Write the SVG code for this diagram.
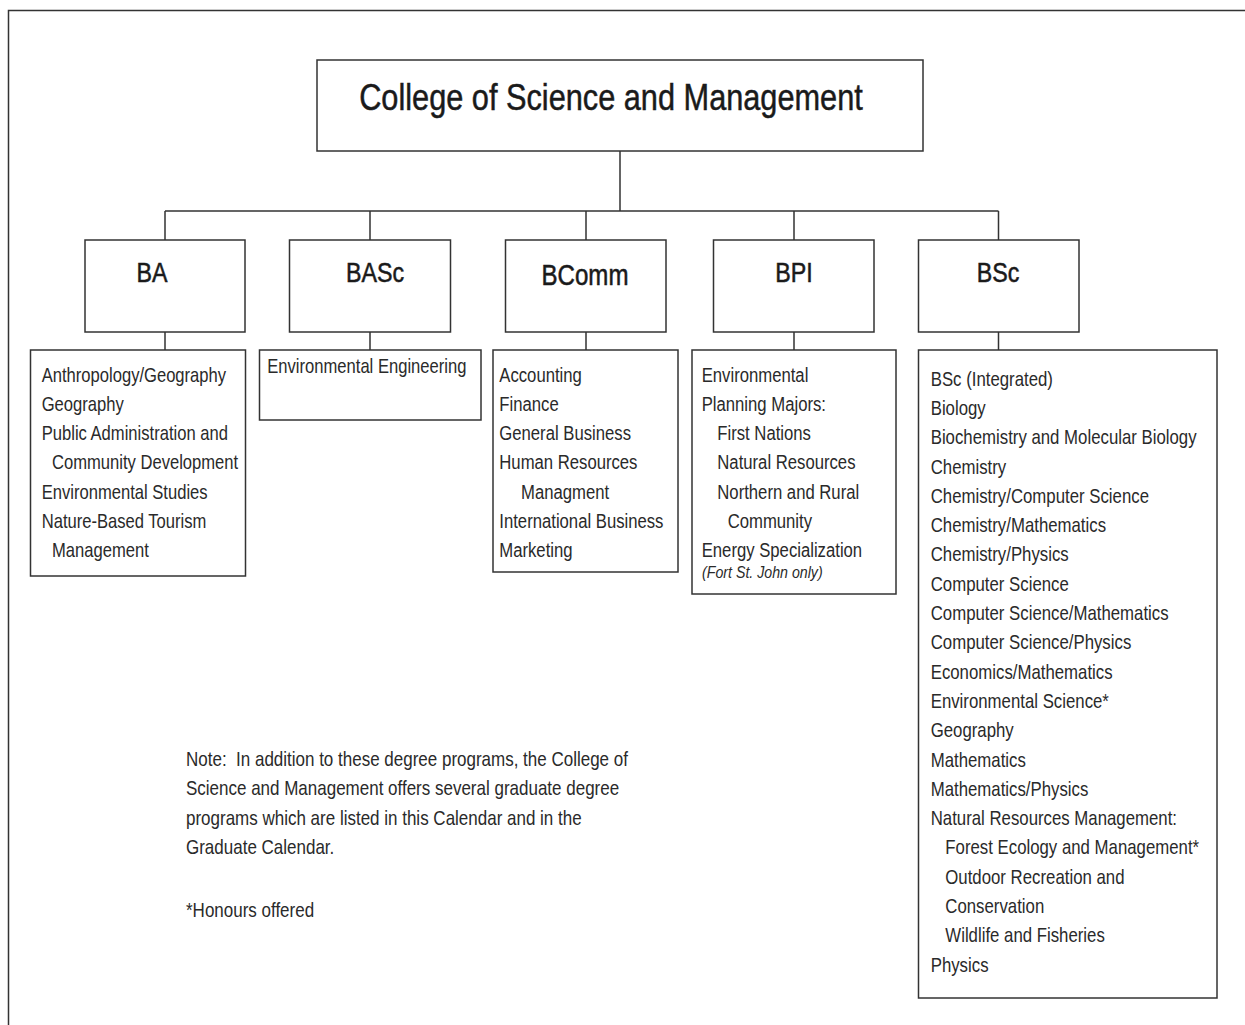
<svg xmlns="http://www.w3.org/2000/svg" width="1245" height="1025" viewBox="0 0 1245 1025">
<style>
.box{fill:#fff;stroke:#333;stroke-width:1.5}
.ln{fill:none;stroke:#333;stroke-width:1.5}
text{font-family:"Liberation Sans",Arial,sans-serif;fill:#1a1a1a}
.title{font-size:37px;text-anchor:middle;stroke:#1a1a1a;stroke-width:0.5}
.deg{font-size:28px;text-anchor:middle;stroke:#1a1a1a;stroke-width:0.55}
.item{font-size:20px;fill:#2a2a2a}
.it{font-size:17px;font-style:italic;fill:#2a2a2a}
</style>
<rect x="8.5" y="10.5" width="1260" height="1040" fill="#fff" stroke="#333" stroke-width="1.5"/>
<g id="connectors">
<path class="ln" d="M620,151 V211 M165,211 H998.5 M165,211 V240 M370,211 V240 M586,211 V240 M794,211 V240 M998.5,211 V240"/>
<path class="ln" d="M165,332 V350 M370,332 V350 M586,332 V350 M794,332 V350 M998.5,332 V350"/>
</g>
<g id="college">
<rect class="box" x="317" y="60" width="606" height="91"/>
<text class="title" transform="translate(611,0) scale(0.83,1)" x="0" y="110">College of Science and Management</text>
</g>
<g id="ba">
<rect class="box" x="85" y="240" width="160" height="92"/>
<text class="deg" transform="translate(152,0) scale(0.83,1)" x="0" y="282">BA</text>
</g>
<g id="basc">
<rect class="box" x="289.5" y="240" width="161" height="92"/>
<text class="deg" transform="translate(375,0) scale(0.83,1)" x="0" y="282">BASc</text>
</g>
<g id="bcomm">
<rect class="box" x="505.5" y="240" width="160.5" height="92"/>
<text class="deg" transform="translate(585,0) scale(0.83,1)" x="0" y="285" style="font-size:29px">BComm</text>
</g>
<g id="bpi">
<rect class="box" x="713.5" y="240" width="160.5" height="92"/>
<text class="deg" transform="translate(794,0) scale(0.83,1)" x="0" y="282">BPI</text>
</g>
<g id="bsc">
<rect class="box" x="918.5" y="240" width="160.5" height="92"/>
<text class="deg" transform="translate(998,0) scale(0.83,1)" x="0" y="282">BSc</text>
</g>
<g id="ba-list">
<rect class="box" x="30.5" y="350" width="215" height="226"/>
<g transform="translate(41.7,0) scale(0.83,1)">
<text class="item" x="0" y="381.7">Anthropology/Geography</text>
<text class="item" x="0" y="411">Geography</text>
<text class="item" x="0" y="440.2">Public Administration and</text>
<text class="item" x="12.4" y="469.4">Community Development</text>
<text class="item" x="0" y="498.6">Environmental Studies</text>
<text class="item" x="0" y="527.8">Nature-Based Tourism</text>
<text class="item" x="12.4" y="557">Management</text>
</g>
</g>
<g id="basc-list">
<rect class="box" x="259.5" y="350" width="221.5" height="70"/>
<g transform="translate(267.3,0) scale(0.83,1)">
<text class="item" x="0" y="373.3">Environmental Engineering</text>
</g>
</g>
<g id="bcomm-list">
<rect class="box" x="493" y="350" width="185" height="222"/>
<g transform="translate(499.3,0) scale(0.835,1)">
<text class="item" x="0" y="381.7">Accounting</text>
<text class="item" x="0" y="411">Finance</text>
<text class="item" x="0" y="440.2">General Business</text>
<text class="item" x="0" y="469.4">Human Resources</text>
<text class="item" x="26" y="498.6">Managment</text>
<text class="item" x="0" y="527.8">International Business</text>
<text class="item" x="0" y="557">Marketing</text>
</g>
</g>
<g id="bpi-list">
<rect class="box" x="692" y="350" width="204" height="244"/>
<g transform="translate(701.7,0) scale(0.835,1)">
<text class="item" x="0" y="381.7">Environmental</text>
<text class="item" x="0" y="411">Planning Majors:</text>
<text class="item" x="18.7" y="440.2">First Nations</text>
<text class="item" x="18.7" y="469.4">Natural Resources</text>
<text class="item" x="18.7" y="498.6">Northern and Rural</text>
<text class="item" x="31.1" y="527.8">Community</text>
<text class="item" x="0" y="557">Energy Specialization</text>
<text class="it" x="0.4" y="578">(Fort St. John only)</text>
</g>
</g>
<g id="bsc-list">
<rect class="box" x="918.5" y="350" width="298.5" height="648"/>
<g transform="translate(930.7,0) scale(0.84,1)">
<text class="item" x="0" y="385.7">BSc (Integrated)</text>
<text class="item" x="0" y="415">Biology</text>
<text class="item" x="0" y="444.3">Biochemistry and Molecular Biology</text>
<text class="item" x="0" y="473.6">Chemistry</text>
<text class="item" x="0" y="502.9">Chemistry/Computer Science</text>
<text class="item" x="0" y="532.2">Chemistry/Mathematics</text>
<text class="item" x="0" y="561.5">Chemistry/Physics</text>
<text class="item" x="0" y="590.8">Computer Science</text>
<text class="item" x="0" y="620.1">Computer Science/Mathematics</text>
<text class="item" x="0" y="649.4">Computer Science/Physics</text>
<text class="item" x="0" y="678.7">Economics/Mathematics</text>
<text class="item" x="0" y="708">Environmental Science*</text>
<text class="item" x="0" y="737.3">Geography</text>
<text class="item" x="0" y="766.6">Mathematics</text>
<text class="item" x="0" y="795.9">Mathematics/Physics</text>
<text class="item" x="0" y="825.2">Natural Resources Management:</text>
<text class="item" x="17.4" y="854.5">Forest Ecology and Management*</text>
<text class="item" x="17.4" y="883.8">Outdoor Recreation and</text>
<text class="item" x="17.4" y="913.1">Conservation</text>
<text class="item" x="17.4" y="942.4">Wildlife and Fisheries</text>
<text class="item" x="0" y="971.7">Physics</text>
</g>
</g>
<g id="note">
<g transform="translate(186,0) scale(0.85,1)">
<text class="item" x="0" y="766" xml:space="preserve">Note:  In addition to these degree programs, the College of</text>
<text class="item" x="0" y="795.3">Science and Management offers several graduate degree</text>
<text class="item" x="0" y="824.6">programs which are listed in this Calendar and in the</text>
<text class="item" x="0" y="853.9">Graduate Calendar.</text>
<text class="item" x="0" y="917">*Honours offered</text>
</g>
</g>
</svg>
